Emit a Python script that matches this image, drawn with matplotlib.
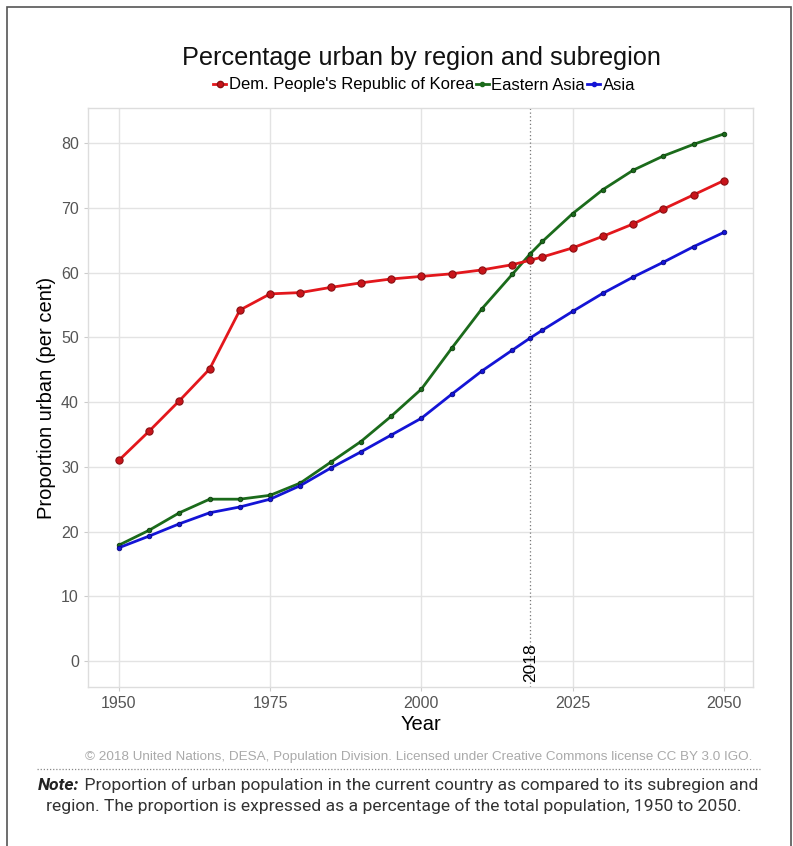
import matplotlib
matplotlib.use("Agg")
import matplotlib.pyplot as plt
from matplotlib.lines import Line2D
from matplotlib.patches import Rectangle
from matplotlib.offsetbox import TextArea, HPacker, AnchoredOffsetbox

years = [1950, 1955, 1960, 1965, 1970, 1975, 1980, 1985, 1990, 1995, 2000,
         2005, 2010, 2015, 2018, 2020, 2025, 2030, 2035, 2040, 2045, 2050]
korea = [31.0, 35.5, 40.2, 45.1, 54.2, 56.7, 56.9, 57.7, 58.4, 59.0, 59.4,
         59.8, 60.4, 61.2, 61.9, 62.4, 63.8, 65.6, 67.5, 69.8, 72.0, 74.2]
eastern_asia = [17.9, 20.2, 22.9, 25.0, 25.0, 25.6, 27.5, 30.7, 33.9, 37.8, 42.0,
                48.3, 54.4, 59.7, 62.9, 64.8, 69.1, 72.8, 75.8, 78.0, 79.8, 81.4]
asia = [17.5, 19.3, 21.2, 22.9, 23.8, 25.0, 27.1, 29.8, 32.3, 34.9, 37.5,
        41.2, 44.8, 48.0, 49.9, 51.1, 54.0, 56.8, 59.3, 61.6, 64.0, 66.2]
series_names = ["Dem. People's Republic of Korea", "Eastern Asia", "Asia"]
x_ticks = [1950, 1975, 2000, 2025, 2050]
y_ticks = [0, 10, 20, 30, 40, 50, 60, 70, 80]
current_year = 2018

plt.rcParams['font.family'] = ['Liberation Sans', 'DejaVu Sans']

fig = plt.figure(figsize=(7.93, 8.46), dpi=100)
W, H = 793, 846

# outer frame
fig.patches.append(Rectangle((6.5 / W, -0.01), (791 - 6.5) / W, (H - 7) / H + 0.01,
                             transform=fig.transFigure, fill=False,
                             edgecolor='#555555', linewidth=1.2))

ax = fig.add_axes([88 / W, (H - 687) / H, (753 - 88) / W, (687 - 108) / H])
ax.set_xlim(1944.9, 2054.8)
ax.set_ylim(-4.0, 85.4)

red, green, blue = '#e3171c', '#1b6b1b', '#1414d6'
ax.plot(years, korea, color=red, lw=2.0, marker='o', ms=5.2,
        mfc='#c8141a', mec='#8a0f12', mew=0.8, zorder=4)
ax.plot(years, eastern_asia, color=green, lw=2.0, marker='o', ms=3.3,
        mfc=green, mec='#0e3d0e', mew=0.6, zorder=3)
ax.plot(years, asia, color=blue, lw=2.0, marker='o', ms=3.3,
        mfc=blue, mec='#0a0a80', mew=0.6, zorder=3)

ax.axvline(current_year, color='#777777', lw=0.9, ls=(0, (1, 2)), zorder=2)
ax.text(current_year, -3.3, str(current_year), rotation=90, ha='center',
        va='bottom', fontsize=12.5, color='black')

ax.set_xticks(x_ticks)
ax.set_yticks(y_ticks)
ax.grid(True, color='#e3e3e3', lw=1.0, zorder=0)
ax.set_axisbelow(True)
for s in ax.spines.values():
    s.set_color('#dddddd')
    s.set_linewidth(1.0)
ax.tick_params(axis='both', colors='#cccccc', labelcolor='#555555',
               labelsize=11.5, length=3, width=0.8)
ax.set_xlabel('Year', fontsize=14.5, color='black', labelpad=3)
ax.set_ylabel('Proportion urban (per cent)', fontsize=14.5, color='black', labelpad=4)

fig.text(421 / W, 1 - 58 / H, 'Percentage urban by region and subregion',
         ha='center', va='center', fontsize=18.2, color='#111111')

handles = [
    Line2D([], [], color=red, lw=2, marker='o', ms=4.5, mfc='#c8141a', mec='#8a0f12'),
    Line2D([], [], color=green, lw=2, marker='o', ms=3, mfc=green),
    Line2D([], [], color=blue, lw=2, marker='o', ms=3, mfc=blue),
]
fig.legend(handles, series_names, loc='center', bbox_to_anchor=(424 / W, 1 - 85 / H),
           ncol=3, frameon=False, fontsize=12.0, handlelength=0.8,
           handletextpad=0.15, columnspacing=0.1, borderpad=0)

fig.text(752 / W, 1 - 757 / H,
         '\u00a9 2018 United Nations, DESA, Population Division. Licensed under '
         'Creative Commons license CC BY 3.0 IGO.',
         ha='right', va='center', fontsize=9.7, color='#aaaaaa')
fig.add_artist(Line2D([37 / W, 760 / W], [1 - 769 / H, 1 - 769 / H],
                      transform=fig.transFigure, color='#888888', lw=0.9,
                      ls=(0, (1, 1.5))))

note_fam = ['Roboto', 'DejaVu Sans']
fs_note = 12.6
bold = TextArea('Note:', textprops=dict(fontsize=fs_note, fontweight='bold',
                                         fontstyle='italic', family=note_fam, color='#222222'))
rest = TextArea(' Proportion of urban population in the current country as compared to its subregion and',
                textprops=dict(fontsize=fs_note, family=note_fam, color='#333333'))
box = HPacker(children=[bold, rest], align='baseline', pad=0, sep=0)
ab = AnchoredOffsetbox(loc='center', child=box, bbox_to_anchor=(398 / W, 1 - 785 / H),
                       bbox_transform=fig.transFigure, frameon=False, pad=0, borderpad=0)
fig.add_artist(ab)
fig.text(394 / W, 1 - 806 / H,
         'region. The proportion is expressed as a percentage of the total population, 1950 to 2050.',
         ha='center', va='center', fontsize=fs_note, family=note_fam, color='#333333')

fig.savefig('out.png', dpi=100)
